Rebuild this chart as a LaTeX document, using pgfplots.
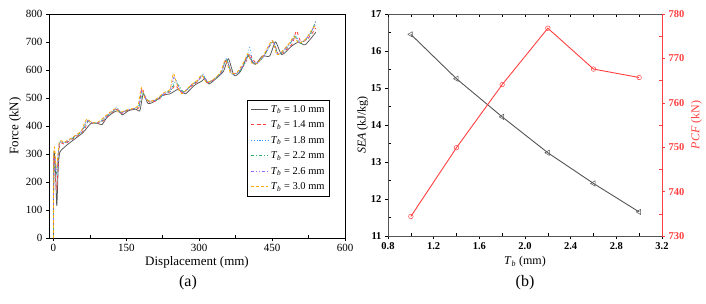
\documentclass[border=0pt]{standalone}
\usepackage{fontspec}
\setmainfont{Liberation Serif}
\usepackage{pgfplots}
\pgfplotsset{compat=1.18}
\definecolor{cgrey}{HTML}{555555}
\definecolor{cred}{HTML}{FF3B3B}
\definecolor{cblue}{HTML}{3399FF}
\definecolor{cgreen}{HTML}{2EAD6B}
\definecolor{cpurple}{HTML}{9966FF}
\definecolor{corange}{HTML}{FFAA00}
\definecolor{pcfred}{HTML}{FF4040}
\newcommand{\Tb}{\textit{T}\textsubscript{\textit{b}}}
\begin{document}
\begin{tikzpicture}[x=1pt,y=1pt]
\path[use as bounding box] (0,0) rectangle (706,303);
% ---------------- panel (a)
\begin{axis}[
  at={(49pt,65pt)}, anchor=south west, scale only axis,
  width=296pt, height=224pt,
  xmin=-9, xmax=600, ymin=0, ymax=800,
  xtick={0,150,...,600}, ytick={0,100,...,800},
  minor xtick={75,225,375,525},
  xtick pos=bottom, ytick pos=left,
  tick align=outside, major tick length=3pt, minor tick length=-3pt,
  /pgf/number format/assume math mode=true,
  tick label style={font=\rmfamily\fontsize{11}{11}\selectfont},
  xlabel={Displacement (mm)}, ylabel={Force (kN)},
  label style={font=\rmfamily\fontsize{13}{13}\selectfont},
  xlabel style={yshift=2pt},
  ylabel style={yshift=-2pt},
  axis line style={line width=0.8pt},
  every tick/.style={black, line width=0.6pt},
  legend style={at={(0.949,0.616)}, anchor=north east, draw=black, line width=0.5pt,
     font=\rmfamily\fontsize{10.5}{10.5}\selectfont, row sep=3pt, inner sep=3pt, cells={anchor=west}},
  legend cell align=left,
  legend image post style={sharp plot, line width=1pt},
  every axis plot/.append style={line width=0.75pt},
]
\addplot[cgrey, solid, smooth, tension=0.4] coordinates {(0,0)(1,300)(4,260)(7,115)(10,250)(13,305)(20,320)(30,335)(45,355)(60,375)(70,395)(78,410)(90,410)(100,405)(110,430)(125,450)(135,455)(142,440)(155,455)(170,460)(178,455)(185,515)(195,480)(210,490)(225,510)(240,515)(255,530)(262,525)(272,515)(290,545)(305,560)(312,570)(320,550)(335,570)(350,595)(360,640)(372,580)(385,595)(400,650)(415,620)(430,650)(445,650)(457,700)(470,655)(490,685)(505,700)(518,690)(540,735)};
\addlegendentry{\Tb{} = 1.0 mm}
\addplot[cred, dashed, smooth, tension=0.4] coordinates {(0,0)(1,280)(3,250)(5,200)(7,170)(9,230)(12,320)(16,340)(22,335)(32,345)(45,360)(58,375)(66,395)(72,420)(78,410)(90,410)(100,415)(110,430)(125,455)(132,460)(140,445)(152,455)(168,462)(176,465)(182,535)(190,500)(198,485)(212,490)(228,510)(242,525)(250,545)(256,535)(266,520)(282,540)(298,560)(306,580)(316,555)(330,565)(345,590)(356,635)(367,590)(380,590)(395,625)(404,660)(408,645)(418,625)(432,650)(452,700)(463,655)(478,670)(492,695)(500,740)(508,705)(520,705)(532,730)(540,750)};
\addlegendentry{\Tb{} = 1.4 mm}
\addplot[cblue, dotted, smooth, tension=0.4] coordinates {(0,0)(1,260)(3,280)(5,230)(7,220)(9,260)(12,330)(16,345)(22,338)(32,348)(45,362)(58,378)(67,405)(72,415)(80,410)(92,412)(102,420)(112,435)(122,450)(130,468)(138,448)(150,455)(165,460)(175,470)(182,525)(190,495)(200,488)(215,495)(230,515)(242,525)(250,570)(258,540)(268,520)(284,545)(298,562)(308,585)(318,556)(332,568)(346,592)(356,642)(368,585)(382,592)(396,630)(404,680)(410,630)(420,625)(434,650)(452,705)(462,655)(476,672)(490,700)(497,725)(508,700)(520,708)(532,735)(540,765)};
\addlegendentry{\Tb{} = 1.8 mm}
\addplot[cgreen, dash dot, smooth, tension=0.4] coordinates {(0,0)(1,250)(3,240)(5,250)(7,230)(9,270)(12,335)(16,345)(22,340)(32,348)(45,363)(58,380)(67,410)(72,418)(80,412)(92,410)(102,422)(112,438)(124,455)(130,462)(138,446)(150,456)(166,462)(176,468)(183,520)(190,498)(200,488)(215,495)(230,518)(242,528)(250,555)(258,545)(268,522)(284,546)(298,563)(307,582)(317,556)(332,568)(346,593)(356,640)(367,587)(382,593)(396,632)(402,655)(410,625)(420,624)(434,652)(452,703)(462,656)(476,672)(490,702)(497,720)(508,695)(520,710)(532,740)(540,778)};
\addlegendentry{\Tb{} = 2.2 mm}
\addplot[cpurple, dash dot dot, smooth, tension=0.4] coordinates {(0,0)(1,270)(3,290)(5,240)(7,235)(9,280)(12,338)(16,346)(22,340)(32,350)(45,365)(58,382)(66,412)(71,420)(80,412)(92,412)(102,424)(112,440)(124,456)(130,460)(138,446)(150,456)(166,463)(176,470)(182,528)(190,498)(200,488)(215,497)(230,520)(240,528)(248,575)(256,545)(266,518)(283,546)(298,563)(307,583)(317,556)(332,568)(346,593)(355,638)(366,588)(380,592)(395,632)(401,660)(409,625)(420,624)(434,652)(451,705)(461,657)(475,673)(490,702)(496,718)(506,698)(520,712)(532,742)(540,770)};
\addlegendentry{\Tb{} = 2.6 mm}
\addplot[corange, densely dashed, smooth, tension=0.4] coordinates {(0,0)(1,300)(3,320)(5,260)(7,250)(9,290)(12,340)(16,348)(22,342)(32,352)(45,366)(58,384)(65,415)(70,425)(78,413)(90,412)(100,425)(110,440)(122,456)(128,462)(136,448)(148,456)(164,463)(174,472)(181,537)(188,500)(198,488)(212,497)(228,520)(240,530)(247,588)(254,550)(264,515)(282,545)(296,563)(305,582)(315,556)(330,568)(344,593)(354,636)(365,588)(378,592)(393,632)(400,658)(408,625)(418,622)(432,652)(450,705)(460,655)(474,673)(488,702)(495,720)(505,696)(520,712)(532,745)(540,760)};
\addlegendentry{\Tb{} = 3.0 mm}
\end{axis}
\node[font=\rmfamily\fontsize{16}{16}\selectfont] at (188,20) {(a)};
% ---------------- panel (b)
\begin{axis}[
  at={(388pt,67pt)}, anchor=south west, scale only axis,
  width=274pt, height=222pt,
  xmin=0.8, xmax=3.2, ymin=11, ymax=17,
  xtick={0.8,1.2,...,3.2}, ytick={11,...,17},
  minor x tick num=1, minor y tick num=1,
  xtick pos=bottom, ytick pos=left,
  axis y line*=left,
  tick align=outside, major tick length=3pt, minor tick length=-3pt,
  /pgf/number format/assume math mode=true,
  xticklabel style={/pgf/number format/.cd, fixed, fixed zerofill, precision=1},
  tick label style={font=\rmfamily\fontsize{10.5}{10.5}\selectfont\bfseries},
  xlabel={\Tb{} (mm)}, ylabel={\textit{SEA} (kJ/kg)},
  label style={font=\rmfamily\fontsize{12}{12}\selectfont},
  ylabel style={yshift=-4pt},
  axis line style={line width=0.8pt, draw=cgrey},
  every tick/.style={black, line width=0.6pt},
]
\addplot[cgrey, line width=0.9pt, mark=triangle, mark size=3pt, mark options={rotate=90, solid, fill=white, line width=0.5pt}]
  coordinates {(1.0,16.45)(1.4,15.25)(1.8,14.22)(2.2,13.25)(2.6,12.42)(3.0,11.65)};
\end{axis}
% top axis ticks (inward)
\begin{axis}[
  at={(388pt,67pt)}, anchor=south west, scale only axis,
  width=274pt, height=222pt,
  xmin=0.8, xmax=3.2, ymin=0, ymax=1,
  axis x line*=top, axis y line=none,
  xtick={0.8,1.2,...,3.2}, minor x tick num=1, xticklabels={},
  tick align=inside, major tick length=3pt, minor tick length=3pt,
  axis line style={line width=0.8pt, draw=cgrey},
  every tick/.style={black, line width=0.6pt},
]
\end{axis}
\begin{axis}[
  at={(388pt,67pt)}, anchor=south west, scale only axis,
  width=274pt, height=222pt,
  xmin=0.8, xmax=3.2, ymin=730, ymax=780,
  axis x line=none, axis y line*=right,
  ytick={730,740,...,780}, minor y tick num=1,
  tick align=outside, major tick length=3pt, minor tick length=-3pt,
  /pgf/number format/assume math mode=true,
  tick label style={font=\rmfamily\fontsize{10.5}{10.5}\selectfont\bfseries, text=pcfred},
  ylabel={\textit{PCF} (kN)},
  label style={font=\rmfamily\fontsize{12}{12}\selectfont, text=pcfred},
  axis line style={line width=0.8pt, draw=pcfred},
  every tick/.style={pcfred, line width=0.6pt},
]
\addplot[pcfred, line width=0.9pt, mark=o, mark size=2.3pt, mark options={solid, fill=white, line width=0.5pt}]
  coordinates {(1.0,734.4)(1.4,749.9)(1.8,764.1)(2.2,776.8)(2.6,767.6)(3.0,765.7)};
\end{axis}
\node[font=\rmfamily\fontsize{16}{16}\selectfont] at (525,20) {(b)};
\end{tikzpicture}
\end{document}
